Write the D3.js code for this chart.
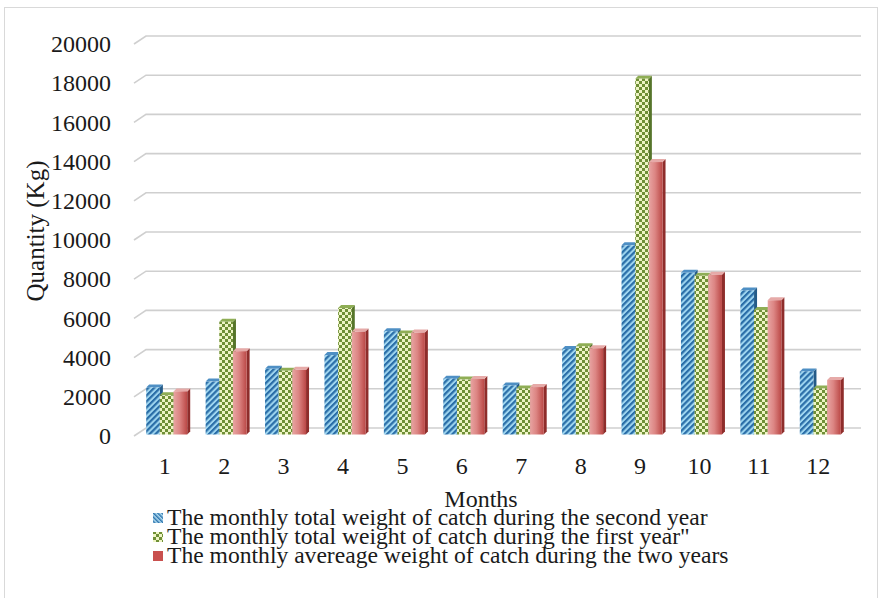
<!DOCTYPE html>
<html><head><meta charset="utf-8">
<script src="https://cdn.jsdelivr.net/npm/d3@7"></script>
<style>body{margin:0;background:#fff}svg{display:block}text{font-family:"Liberation Serif","Times New Roman",serif;fill:#1a1a1a}</style>
</head><body><svg id="c" width="882" height="598"></svg>
<script>
const months = ["1","2","3","4","5","6","7","8","9","10","11","12"];
const secondYear = [2400,2700,3350,4050,5270,2850,2500,4360,9650,8250,7350,3220];
const firstYear = [2000,5750,3250,6450,5150,2800,2350,4500,18150,8100,6350,2350];
const averageTwoYears = [2200,4250,3300,5250,5200,2830,2420,4400,13900,8150,6850,2780];
const seriesNames = ["The monthly total weight of catch during the second year",
  "The monthly total weight of catch during the first year\"",
  "The monthly avereage weight of catch during the two years"];
const yTicks = [0,2000,4000,6000,8000,10000,12000,14000,16000,18000,20000];
const yTitle = "Quantity (Kg)", xTitle = "Months";

const svg = d3.select("#c");
const defs = svg.append("defs");
// blue stripes
let p = defs.append("pattern").attr("id","blue").attr("patternUnits","userSpaceOnUse")
  .attr("width",4.2).attr("height",4.2).attr("patternTransform","rotate(45)");
p.append("rect").attr("width",4.2).attr("height",4.2).attr("fill","#9fd6f0");
p.append("rect").attr("width",2.2).attr("height",4.2).attr("fill","#2a6ea8");
p = defs.append("pattern").attr("id","blueL").attr("patternUnits","userSpaceOnUse")
  .attr("width",3).attr("height",3).attr("patternTransform","rotate(-45)");
p.append("rect").attr("width",3).attr("height",3).attr("fill","#b5e0f3");
p.append("rect").attr("width",1.5).attr("height",3).attr("fill","#2f74ad");
// green checker
p = defs.append("pattern").attr("id","green").attr("patternUnits","userSpaceOnUse")
  .attr("width",6).attr("height",6);
p.append("rect").attr("width",6).attr("height",6).attr("fill","#eef4c4");
p.append("rect").attr("width",3).attr("height",3).attr("fill","#6f8f36");
p.append("rect").attr("x",3).attr("y",3).attr("width",3).attr("height",3).attr("fill","#6f8f36");
// red gradient
let g = defs.append("linearGradient").attr("id","red").attr("x1","0").attr("x2","1").attr("y1","0").attr("y2","0");
g.append("stop").attr("offset","0%").attr("stop-color","#e8a4a2");
g.append("stop").attr("offset","45%").attr("stop-color","#dc8583");
g.append("stop").attr("offset","100%").attr("stop-color","#bb4846");

// border
svg.append("rect").attr("x",4.5).attr("y",7.5).attr("width",873).attr("height",600)
  .attr("fill","none").attr("stroke","#d9d9d9");

const yFront = d3.scaleLinear().domain([0,20000]).range([436,44]);
const yBar = d3.scaleLinear().domain([0,20000]).range([434.5,42.5]);
const x0 = d3.scaleBand().domain(months).range([137,850]).paddingInner(0.31).paddingOuter(0.155);
const x1 = d3.scaleBand().domain([0,1,2]).range([0,x0.bandwidth()]);

// gridlines (back wall + side diagonal)
const gx0 = 134, gdx = 12, gdy = 8, gRight = 861;
const grid = svg.append("g");
yTicks.forEach(v=>{
  const yf = yFront(v);
  grid.append("path").attr("d",`M${gx0},${yf}L${gx0+gdx},${yf-gdy}L${gRight},${yf-gdy}`)
    .attr("fill","none").attr("stroke","#cfcfcf").attr("stroke-width",1.6);
});

// y axis labels
const yAxis = svg.append("g").attr("transform","translate(111,0)")
  .call(d3.axisLeft(yFront).tickValues(yTicks).tickSize(0).tickPadding(0).tickFormat(d3.format("d")));
yAxis.select(".domain").remove();
yAxis.selectAll("text").style("font-family","Liberation Serif").style("font-size","24px").attr("fill","#1a1a1a");

// x axis labels
const xAxis = svg.append("g").attr("transform","translate(-2,457)")
  .call(d3.axisBottom(x0).tickSize(0).tickPadding(0));
xAxis.select(".domain").remove();
xAxis.selectAll("text").style("font-family","Liberation Serif").style("font-size","24px").attr("fill","#1a1a1a");

// bars
const series = [
  {vals:secondYear, face:"url(#blue)", cap:"#4e8fc4", side:"#245b88"},
  {vals:firstYear, face:"url(#green)", cap:"#8fae55", side:"#56752a"},
  {vals:averageTwoYears, face:"url(#red)", cap:"#e6aaa8", side:"#8e2d2b"}
];
const dd = 3;
const bars = svg.append("g");
months.forEach((m,i)=>{
  series.forEach((s,k)=>{
    const v = s.vals[i];
    const xl = x0(m)+x1(k), w = x1.bandwidth();
    const yt = yBar(v), yb = yBar(0);
    const gg = bars.append("g");
    gg.append("path").attr("d",`M${xl+w},${yt}L${xl+w+dd},${yt-dd}L${xl+w+dd},${yb-dd}L${xl+w},${yb}Z`).attr("fill",s.side);
    gg.append("path").attr("d",`M${xl},${yt}L${xl+dd},${yt-dd}L${xl+w+dd},${yt-dd}L${xl+w},${yt}Z`).attr("fill",s.cap);
    gg.append("rect").attr("x",xl).attr("y",yt).attr("width",w).attr("height",yb-yt).attr("fill",s.face);
  });
});

// titles
svg.append("text").attr("transform","translate(44,231) rotate(-90)").attr("text-anchor","middle")
  .style("font-size","25px").text(yTitle);
svg.append("text").attr("x",481).attr("y",507).attr("text-anchor","middle").style("font-size","24px").text(xTitle);

// legend
const legFill = ["url(#blueL)","url(#green)","#c9504e"];
seriesNames.forEach((n,k)=>{
  const cy = 518 + k*19;
  svg.append("rect").attr("x",153).attr("y",cy-5).attr("width",10).attr("height",10).attr("fill",legFill[k]);
  svg.append("text").attr("x",167).attr("y",cy+7).style("font-size","23.6px").text(n);
});
</script></body></html>
